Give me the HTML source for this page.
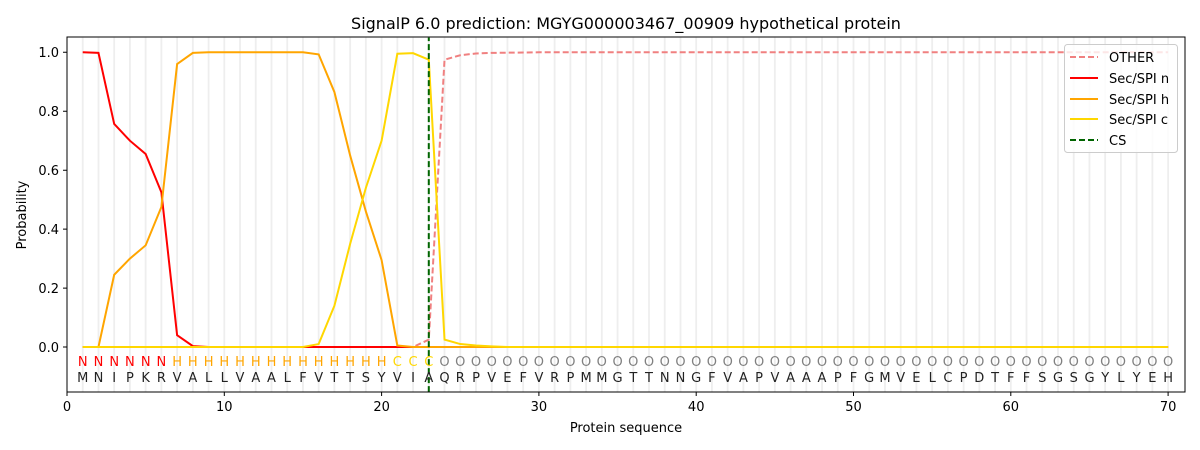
<!DOCTYPE html>
<html><head><meta charset="utf-8"><style>
html,body{margin:0;padding:0;background:#fff;}
svg{display:block;font-family:"DejaVu Sans","Liberation Sans",sans-serif;}
</style></head><body>
<svg width="1200" height="450" viewBox="0 0 1200 450" xmlns="http://www.w3.org/2000/svg">
<rect width="1200" height="450" fill="#fff"/>
<text x="626" y="29" font-size="16" text-anchor="middle" fill="#000">SignalP 6.0 prediction: MGYG000003467_00909 hypothetical protein</text>
<g transform="translate(67,347) scale(15.73,-294.7)" fill="none">
<path d="M1 -0.153V1.05M2 -0.153V1.05M3 -0.153V1.05M4 -0.153V1.05M5 -0.153V1.05M6 -0.153V1.05M7 -0.153V1.05M8 -0.153V1.05M9 -0.153V1.05M10 -0.153V1.05M11 -0.153V1.05M12 -0.153V1.05M13 -0.153V1.05M14 -0.153V1.05M15 -0.153V1.05M16 -0.153V1.05M17 -0.153V1.05M18 -0.153V1.05M19 -0.153V1.05M20 -0.153V1.05M21 -0.153V1.05M22 -0.153V1.05M23 -0.153V1.05M24 -0.153V1.05M25 -0.153V1.05M26 -0.153V1.05M27 -0.153V1.05M28 -0.153V1.05M29 -0.153V1.05M30 -0.153V1.05M31 -0.153V1.05M32 -0.153V1.05M33 -0.153V1.05M34 -0.153V1.05M35 -0.153V1.05M36 -0.153V1.05M37 -0.153V1.05M38 -0.153V1.05M39 -0.153V1.05M40 -0.153V1.05M41 -0.153V1.05M42 -0.153V1.05M43 -0.153V1.05M44 -0.153V1.05M45 -0.153V1.05M46 -0.153V1.05M47 -0.153V1.05M48 -0.153V1.05M49 -0.153V1.05M50 -0.153V1.05M51 -0.153V1.05M52 -0.153V1.05M53 -0.153V1.05M54 -0.153V1.05M55 -0.153V1.05M56 -0.153V1.05M57 -0.153V1.05M58 -0.153V1.05M59 -0.153V1.05M60 -0.153V1.05M61 -0.153V1.05M62 -0.153V1.05M63 -0.153V1.05M64 -0.153V1.05M65 -0.153V1.05M66 -0.153V1.05M67 -0.153V1.05M68 -0.153V1.05M69 -0.153V1.05M70 -0.153V1.05" stroke="#eeeeee" stroke-width="1.8" vector-effect="non-scaling-stroke"/>
<polyline points="1,0 22,0 23,0.025 24,0.975 25,0.99 26,0.996 27,0.998 30,1 70,1" stroke="#f08080" stroke-width="2" stroke-dasharray="6,3" vector-effect="non-scaling-stroke"/>
<polyline points="1,1 2,0.998 3,0.757 4,0.70 5,0.655 6,0.525 7,0.04 8,0.003 9,0 70,0" stroke="#ff0000" stroke-width="2" vector-effect="non-scaling-stroke"/>
<polyline points="1,0 2,0 3,0.245 4,0.30 5,0.345 6,0.475 7,0.96 8,0.998 9,1 15,1 16,0.993 17,0.865 18,0.65 19,0.46 20,0.295 21,0.005 22,0 70,0" stroke="#ffa500" stroke-width="2" vector-effect="non-scaling-stroke"/>
<polyline points="1,0 15,0 16,0.01 17,0.14 18,0.35 19,0.54 20,0.70 21,0.995 22,0.997 23,0.975 24,0.025 25,0.01 26,0.005 27,0.002 28,0 70,0" stroke="#ffd700" stroke-width="2" vector-effect="non-scaling-stroke"/>
<line x1="23" y1="-0.153" x2="23" y2="1.05" stroke="#006400" stroke-width="2" stroke-dasharray="6,3" vector-effect="non-scaling-stroke"/>
</g>
<rect x="67" y="37" width="1118" height="355" fill="none" stroke="#000" stroke-width="1"/>
<g font-size="13" text-anchor="middle">
<text y="366" fill="#ff0000" x="82.7 98.5 114.2 129.9 145.7 161.4">NNNNNN</text>
<text y="366" fill="#ffa500" x="177.1 192.8 208.6 224.3 240.0 255.8 271.5 287.2 303.0 318.7 334.4 350.1 365.9 381.6">HHHHHHHHHHHHHH</text>
<text y="366" fill="#ffd700" x="397.3 413.1 428.8">CCC</text>
<text y="366" fill="#808080" x="444.5 460.3 476.0 491.7 507.4 523.2 538.9 554.6 570.4 586.1 601.8 617.6 633.3 649.0 664.7 680.5 696.2 711.9 727.7 743.4 759.1 774.9 790.6 806.3 822.0 837.8 853.5 869.2 885.0 900.7 916.4 932.2 947.9 963.6 979.3 995.1 1010.8 1026.5 1042.3 1058.0 1073.7 1089.5 1105.2 1120.9 1136.6 1152.4 1168.1">OOOOOOOOOOOOOOOOOOOOOOOOOOOOOOOOOOOOOOOOOOOOOOO</text>
<text y="382" fill="#222" x="82.7 98.5 114.2 129.9 145.7 161.4 177.1 192.8 208.6 224.3 240.0 255.8 271.5 287.2 303.0 318.7 334.4 350.1 365.9 381.6 397.3 413.1 428.8 444.5 460.3 476.0 491.7 507.4 523.2 538.9 554.6 570.4 586.1 601.8 617.6 633.3 649.0 664.7 680.5 696.2 711.9 727.7 743.4 759.1 774.9 790.6 806.3 822.0 837.8 853.5 869.2 885.0 900.7 916.4 932.2 947.9 963.6 979.3 995.1 1010.8 1026.5 1042.3 1058.0 1073.7 1089.5 1105.2 1120.9 1136.6 1152.4 1168.1">MNIPKRVALLVAALFVTTSYVIAQRPVEFVRPMMGTTNNGFVAPVAAAPFGMVELCPDTFFSGSGYLYEH</text>
</g>
<g stroke="#000" stroke-width="1">
<path d="M67 392v4M224.3 392v4M381.6 392v4M538.9 392v4M696.2 392v4M853.5 392v4M1010.8 392v4M1168.1 392v4"/>
<path d="M67 52.3h-4M67 111.2h-4M67 170.2h-4M67 229.1h-4M67 288.1h-4M67 347h-4"/>
</g>
<g font-size="13" fill="#000" text-anchor="middle">
<text x="67" y="411">0</text><text x="224.3" y="411">10</text><text x="381.6" y="411">20</text><text x="538.9" y="411">30</text><text x="696.2" y="411">40</text><text x="853.5" y="411">50</text><text x="1010.8" y="411">60</text><text x="1168.1" y="411">70</text>
<text x="626" y="432">Protein sequence</text>
</g>
<g font-size="13" fill="#000" text-anchor="end">
<text x="59" y="57">1.0</text><text x="59" y="116">0.8</text><text x="59" y="175">0.6</text><text x="59" y="234">0.4</text><text x="59" y="293">0.2</text><text x="59" y="352">0.0</text>
</g>
<text transform="translate(26,215) rotate(-90)" font-size="13" text-anchor="middle">Probability</text>
<rect x="1064.5" y="44.5" width="113" height="108" rx="3" fill="#fff" fill-opacity="0.8" stroke="#ccc"/>
<g stroke-width="2">
<line x1="1070" y1="57" x2="1098" y2="57" stroke="#f08080" stroke-dasharray="6,3"/>
<line x1="1070" y1="78" x2="1098" y2="78" stroke="#ff0000"/>
<line x1="1070" y1="99" x2="1098" y2="99" stroke="#ffa500"/>
<line x1="1070" y1="119" x2="1098" y2="119" stroke="#ffd700"/>
<line x1="1070" y1="140" x2="1098" y2="140" stroke="#006400" stroke-dasharray="6,3"/>
</g>
<g font-size="13" fill="#000">
<text x="1109" y="62">OTHER</text><text x="1109" y="83">Sec/SPI n</text><text x="1109" y="104">Sec/SPI h</text><text x="1109" y="124">Sec/SPI c</text><text x="1109" y="145">CS</text>
</g>
</svg>
</body></html>
